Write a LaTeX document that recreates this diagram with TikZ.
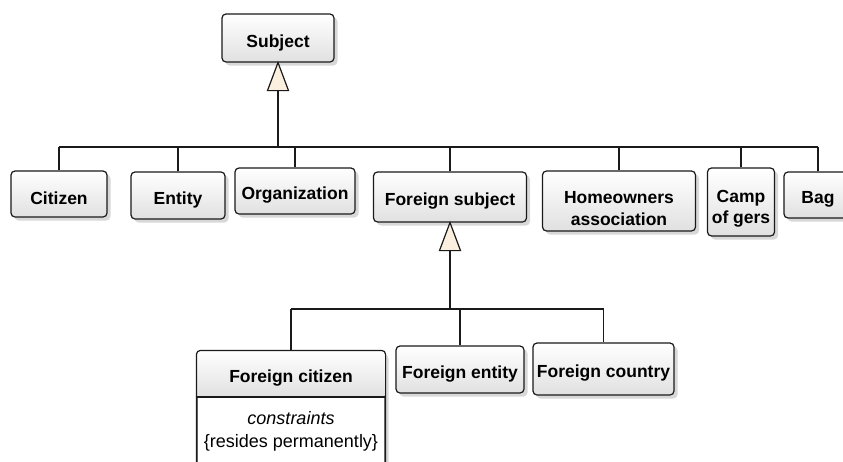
\documentclass[tikz,border=0pt]{standalone}
\usepackage{fontspec}
\setmainfont{Liberation Sans}
\usetikzlibrary{shadows,calc}
\definecolor{cream}{HTML}{FBF0E0}
\definecolor{edge}{HTML}{1A1A1A}
\tikzset{
  boxbase/.style={draw=edge, line width=1.2pt, rounded corners=4pt, inner sep=0pt,
    drop shadow={shadow xshift=3.5pt, shadow yshift=-3.5pt, fill=gray!60, opacity=0.5}},
  ubox/.style={boxbase, top color=white, bottom color=gray!24},
  plainbox/.style={boxbase, fill=white},
  lbl/.style={font=\fontsize{17.5}{21.5}\selectfont\bfseries, align=center, inner sep=0pt, yshift=-4.5pt},
  txt/.style={label={[lbl]center:#1}},
  link/.style={draw=edge, line width=1.2pt},
  gen/.style={draw=edge, line width=1.2pt, fill=cream, line join=miter},
}
\begin{document}
\begin{tikzpicture}[x=1pt,y=-1pt]
\clip (0,0) rectangle (843,461);
\fill[white] (0,0) rectangle (843,461);

% bus lines of the two generalization sets
\coordinate (bus1) at (0,147);
\coordinate (bus2) at (0,309);
\coordinate (sep) at (291,397);

% top-level classes
\node[ubox, minimum width=112, minimum height=48, txt=Subject] (subject) at (278,38) {};
\node[ubox, minimum width=96, minimum height=46, txt=Citizen] (citizen) at (59,194) {};
\node[ubox, minimum width=94, minimum height=47, txt=Entity] (entity) at (178,195.5) {};
\node[ubox, minimum width=120, minimum height=46, txt=Organization] (org) at (295,191) {};
\node[ubox, minimum width=153, minimum height=50, txt={Foreign subject}] (fsubj) at (450,197) {};
\node[ubox, minimum width=153, minimum height=60,
      label={[lbl, yshift=-3pt]center:Homeowners\\association}] (hoa) at (619,201) {};
\node[ubox, minimum width=67, minimum height=68,
      label={[lbl, yshift=-2pt]center:Camp\\of gers}] (camp) at (741,202) {};
\node[ubox, minimum width=68, minimum height=46, txt=Bag] (bag) at (818,195) {};

% foreign subclasses
\node[ubox, minimum width=128, minimum height=47, txt={Foreign entity}] (fent) at (460,369.5) {};
\node[ubox, minimum width=141, minimum height=52, txt={Foreign country}] (fcountry) at (603.5,369) {};

% foreign citizen with constraints compartment
\node[plainbox, minimum width=188, minimum height=130] (fcbox) at (291,416) {};
\shade[top color=white, bottom color=gray!24]
  (fcbox.west |- sep) [rounded corners=4pt] |- (fcbox.north) -| (fcbox.east |- sep) [sharp corners] -- cycle;
\draw[link, rounded corners=4pt] (fcbox.south west) -- (fcbox.north west) -- (fcbox.north east) -- (fcbox.south east);
\draw[link] (fcbox.west |- sep) -- (fcbox.east |- sep);
\node[lbl] (fctitle) at (291,374) {Foreign citizen};
\node[font=\fontsize{18}{23.5}\selectfont, align=center] (fcbody) at (291,431.5)
  {\textit{constraints}\\\{resides permanently\}};

% generalization to Subject
\coordinate (t1) at ($(subject.south)+(0,28)$);
\draw[link] (t1) -- (t1 |- bus1);
\draw[link] (citizen.north |- bus1) -- (bag.north |- bus1);
\foreach \n in {citizen,entity,org,fsubj,hoa,camp,bag}
  \draw[link] (\n.north) -- (\n.north |- bus1);
\draw[gen] (subject.south) -- ++(-10.5,28) -- ++(21,0) -- cycle;

% generalization to Foreign subject
\coordinate (t2) at ($(fsubj.south)+(0,28)$);
\draw[link] (t2) -- (t2 |- bus2);
\draw[link] (fcbox.north |- bus2) -- (fcountry.north |- bus2);
\foreach \n in {fcbox,fent,fcountry}
  \draw[link] (\n.north) -- (\n.north |- bus2);
\draw[gen] (fsubj.south) -- ++(-10.5,28) -- ++(21,0) -- cycle;
\end{tikzpicture}
\end{document}
